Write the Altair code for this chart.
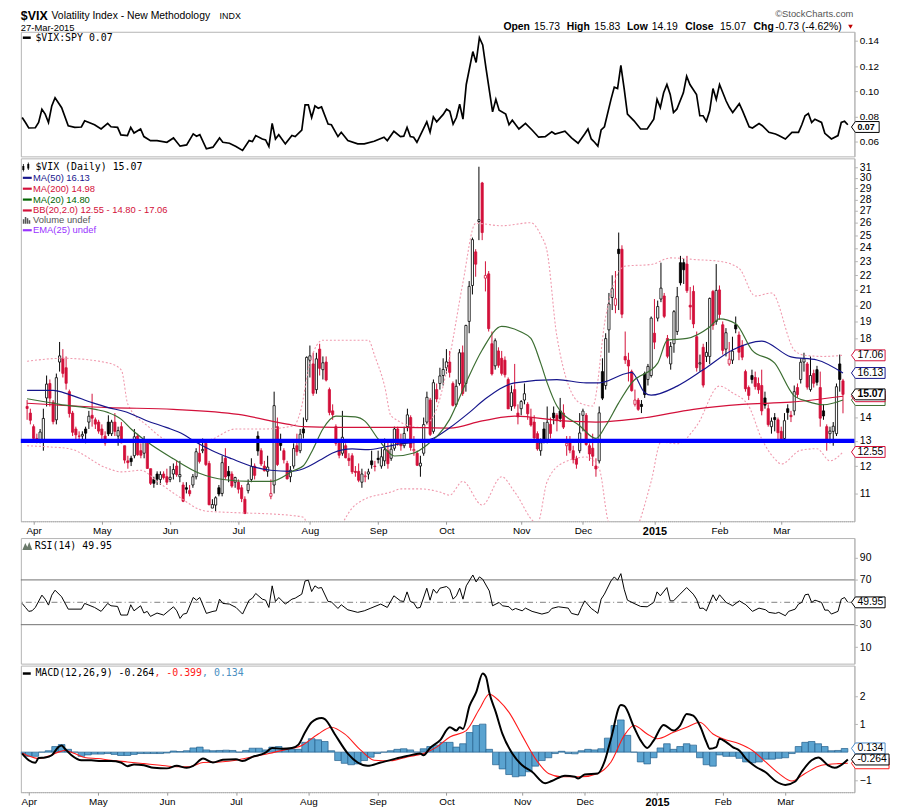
import altair as alt
import numpy as np
import pandas as pd

# ---------------- data (trading-day index j: 0 = 28-Mar-2014 ... 251 = 27-Mar-2015) ----------------
TICK_J = [2, 23, 44, 65, 87, 108, 129, 152, 171, 193, 213, 232]
TICK_LBL = ["Apr", "May", "Jun", "Jul", "Aug", "Sep", "Oct", "Nov", "Dec", "2015", "Feb", "Mar"]
PRIOR_CLOSE = 14.62

OPEN = [14.5, 14.2,
        13.6, 13.1, 13.0, 13.0, 14.9, 15.6, 14.7, 13.9, 16.7, 16.9, 16.4, 15.2, 14.2, 13.5, 13.2, 13.2, 13.5, 13.8, 14.1, 13.9, 13.8,
        13.5, 13.2, 13.8, 13.3, 13.8, 13.2, 13.6, 12.8, 12.2, 12.3, 12.4, 13.2, 12.6, 12.5, 12.9, 11.9, 11.5, 11.7, 11.5, 11.7, 11.6,
        11.5, 11.7, 12.0, 11.6, 11.3, 11.2, 11.1, 11.3, 11.6, 12.5, 12.6, 12.9, 12.1, 10.5, 10.6, 11.2, 11.0, 12.3, 11.8, 11.7, 11.4,
        11.4, 11.2, 10.8, 11.1, 11.5, 12.0, 13.2, 12.6, 12.0, 11.8, 10.9, 11.3, 13.6, 13.0, 12.6, 12.1, 11.6, 12.0, 12.8, 12.6, 13.5, 13.9,
        16.8, 16.6, 15.3, 17.4, 16.3, 16.7, 15.3, 14.3, 13.6, 12.9, 12.5, 12.8, 12.3, 12.4, 11.8, 11.8, 11.4, 11.6, 11.7, 12.2, 12.0,
        12.3, 12.0, 12.2, 12.6, 12.3, 12.7, 13.5, 13.0, 12.8, 13.6, 14.0, 12.6, 12.5, 12.0, 12.5, 13.8, 14.8, 13.4, 15.3, 15.6, 16.0,
        16.4, 16.7, 15.6, 14.6, 15.6, 17.2, 15.6, 19.0, 21.3, 23.7, 26.1, 29.5, 21.8, 22.1, 17.7, 16.5, 17.3, 16.9, 16.8, 15.8, 14.5, 15.3, 14.2,
        14.4, 14.8, 14.6, 14.0, 13.8, 13.3, 12.6, 13.5, 13.0, 13.7, 14.2, 14.1, 14.3, 14.2, 12.8, 13.0, 12.6, 12.3, 12.6,
        14.1, 14.1, 12.8, 12.7, 12.0, 12.2, 16.2, 15.5, 18.5, 20.5, 20.0, 23.9, 23.9, 17.0, 16.8, 16.2, 14.6, 14.8, 14.6, 16.1, 15.8, 16.0,
        18.3, 19.2, 20.4, 20.6, 18.0, 16.6, 17.7, 18.4, 22.9, 22.9, 22.8, 20.0, 20.9, 18.1, 16.6, 17.5, 17.0, 17.0, 20.9, 19.0,
        21.0, 18.8, 17.4, 16.6, 16.8, 18.8, 18.2, 17.6, 16.2, 15.4, 16.0, 15.9, 15.6, 15.5, 14.9, 14.4, 13.6, 14.0, 13.9,
        13.4, 13.1, 14.4, 14.1, 14.3, 15.4, 15.8, 16.7, 16.6, 15.3, 16.1, 16.3, 15.4, 14.3, 13.6, 13.3, 13.4, 13.3, 16.6, 15.73]
HIGH = [14.8, 14.4,
        13.7, 13.3, 13.5, 14.4, 16.0, 15.8, 14.8, 16.1, 17.8, 17.4, 17.0, 15.3, 14.3, 13.6, 13.4, 13.4, 13.6, 14.3, 15.1, 14.0, 13.9,
        13.7, 13.4, 14.1, 13.9, 14.2, 13.6, 13.8, 12.8, 12.4, 12.4, 13.5, 13.3, 12.9, 13.2, 13.0, 11.9, 11.6, 11.8, 11.8, 11.8, 11.9,
        12.0, 12.1, 12.2, 12.2, 11.4, 11.4, 11.3, 11.7, 12.7, 12.9, 13.1, 12.9, 12.2, 10.8, 10.9, 11.3, 12.4, 12.7, 12.0, 11.8, 11.6,
        11.5, 11.3, 10.9, 11.5, 12.3, 12.1, 13.4, 12.7, 12.2, 12.4, 11.5, 15.2, 14.0, 13.3, 12.7, 12.2, 12.0, 12.9, 13.3, 13.5, 14.0, 17.0,
        17.6, 17.2, 17.2, 17.7, 17.0, 17.0, 15.4, 14.6, 13.7, 13.0, 14.3, 12.9, 12.5, 12.5, 12.0, 12.1, 11.9, 11.8, 11.9, 12.6, 12.2,
        12.6, 12.7, 13.1, 13.0, 12.9, 13.6, 13.6, 13.3, 13.6, 14.4, 14.1, 13.2, 12.6, 12.4, 14.0, 15.2, 14.9, 15.8, 15.6, 16.4, 16.9,
        17.4, 17.3, 15.7, 15.8, 17.4, 17.6, 18.8, 21.6, 24.8, 23.9, 31.06, 29.6, 23.0, 22.3, 18.4, 18.0, 17.5, 17.3, 17.0, 15.9, 15.5, 16.6, 14.6,
        14.8, 15.6, 14.7, 14.4, 14.1, 13.4, 13.1, 13.8, 14.5, 14.0, 14.5, 14.2, 14.9, 14.6, 13.2, 13.2, 12.8, 12.4, 14.2,
        14.4, 14.2, 12.9, 13.3, 12.3, 14.5, 16.9, 18.3, 20.8, 22.0, 22.3, 25.2, 24.2, 18.4, 17.2, 16.3, 15.3, 14.9, 14.8, 16.2, 16.6, 19.3,
        20.4, 20.3, 22.9, 20.8, 18.2, 17.8, 19.7, 21.2, 23.4, 23.2, 23.4, 21.2, 21.3, 18.4, 17.1, 17.7, 17.8, 20.5, 21.0, 22.8,
        21.3, 19.0, 18.6, 17.8, 18.1, 19.3, 18.4, 17.9, 16.3, 15.5, 16.3, 16.2, 15.9, 16.3, 15.2, 14.6, 14.0, 14.2, 14.0,
        13.6, 14.2, 14.6, 14.3, 15.5, 15.6, 16.9, 17.2, 16.7, 17.0, 16.3, 16.5, 16.2, 14.6, 13.7, 13.6, 13.8, 15.6, 17.1, 15.83]
LOW = [13.9, 13.7,
       13.0, 12.9, 12.9, 12.6, 14.5, 14.5, 13.7, 13.7, 16.2, 15.9, 15.3, 14.0, 13.2, 13.0, 13.0, 13.0, 12.9, 13.5, 13.6, 13.5, 13.3,
       13.0, 12.8, 13.2, 13.2, 13.2, 12.8, 12.9, 12.1, 11.9, 12.0, 12.3, 12.4, 12.3, 12.3, 11.9, 11.3, 11.2, 11.3, 11.3, 11.5, 11.3,
       11.4, 11.5, 11.6, 11.4, 10.7, 11.0, 10.9, 11.2, 11.5, 12.1, 12.5, 12.0, 10.6, 10.5, 10.4, 10.9, 10.9, 11.5, 11.4, 11.2, 11.2,
       11.0, 10.7, 10.3, 11.0, 11.4, 11.5, 12.4, 12.0, 11.8, 11.6, 10.8, 11.0, 12.0, 12.6, 12.1, 11.5, 11.4, 11.9, 12.4, 12.5, 13.1, 13.8,
       15.9, 15.0, 15.1, 16.0, 15.8, 15.7, 14.1, 13.9, 12.8, 12.3, 12.4, 12.3, 12.0, 11.7, 11.6, 11.4, 11.2, 11.4, 11.5, 11.9, 11.8,
       12.1, 11.9, 12.0, 11.9, 12.2, 12.6, 12.8, 12.6, 12.7, 13.4, 12.6, 12.4, 12.0, 11.6, 12.4, 13.7, 13.2, 13.3, 14.7, 15.3, 15.5,
       16.1, 15.9, 14.5, 14.5, 15.5, 15.0, 15.2, 18.3, 20.7, 21.9, 24.6, 24.6, 20.9, 18.4, 16.0, 16.3, 16.4, 16.0, 15.9, 14.4, 14.3, 14.4, 13.7,
       14.1, 14.6, 13.9, 13.6, 13.0, 12.6, 12.4, 12.9, 12.9, 13.1, 13.7, 13.4, 13.8, 13.5, 12.4, 12.5, 12.1, 11.9, 12.5,
       13.4, 12.8, 12.2, 12.0, 11.6, 12.1, 14.8, 15.3, 17.2, 19.7, 19.5, 19.7, 19.2, 16.6, 15.7, 15.2, 14.5, 14.3, 14.2, 14.9, 15.5, 15.9,
       17.4, 19.0, 20.2, 19.2, 16.9, 16.3, 17.2, 18.2, 21.3, 21.4, 20.8, 19.1, 18.6, 16.2, 16.2, 15.4, 16.7, 16.6, 18.5, 18.8,
       19.1, 17.1, 17.0, 16.5, 16.6, 18.3, 16.8, 16.8, 15.2, 14.8, 15.6, 15.3, 15.1, 14.1, 14.4, 13.6, 13.3, 13.4, 13.0,
       13.0, 13.0, 13.9, 13.8, 14.1, 14.9, 15.6, 16.2, 15.3, 15.2, 15.4, 15.5, 13.6, 13.9, 12.6, 12.9, 12.8, 13.2, 15.2, 14.19]
CLOSE = [14.41, 13.88,
         13.10, 13.09, 13.37, 13.96, 15.57, 14.89, 13.82, 15.89, 17.03, 16.11, 15.61, 14.18, 13.36, 13.25, 13.19, 13.27, 13.32, 14.06, 13.97, 13.71, 13.41,
         13.25, 12.91, 13.29, 13.80, 13.40, 13.43, 12.92, 12.23, 12.13, 12.17, 13.17, 12.44, 12.42, 12.96, 11.91, 11.36, 11.36, 11.51, 11.68, 11.57, 11.40,
         11.58, 11.87, 11.68, 11.68, 10.73, 11.15, 10.99, 11.60, 12.56, 12.18, 12.65, 12.06, 10.61, 10.62, 10.85, 10.98, 12.13, 11.59, 11.63, 11.26, 11.57,
         11.15, 10.82, 10.32, 11.33, 11.98, 11.65, 12.59, 12.08, 11.82, 11.96, 11.00, 14.54, 12.06, 12.81, 12.24, 11.52, 11.84, 12.69, 12.56, 13.28, 13.33, 16.95,
         17.03, 15.12, 16.87, 16.37, 16.66, 15.77, 14.23, 14.13, 12.90, 12.42, 13.15, 12.32, 12.21, 11.78, 11.76, 11.47, 11.70, 11.63, 11.78, 12.05, 11.98,
         12.25, 12.36, 12.64, 12.09, 12.66, 13.50, 12.88, 12.80, 13.31, 14.12, 12.73, 12.65, 12.03, 12.11, 13.69, 14.93, 13.27, 15.64, 14.85, 15.98, 16.31,
         16.71, 16.16, 14.55, 15.46, 17.20, 15.11, 18.76, 21.24, 24.64, 22.79, 26.25, 25.20, 21.99, 18.57, 16.08, 17.87, 16.53, 16.11, 16.04, 14.39, 15.15, 14.52, 14.03,
         14.73, 15.10, 14.17, 13.67, 13.12, 12.67, 12.92, 13.02, 13.79, 13.31, 13.99, 13.86, 13.96, 13.58, 12.90, 12.62, 12.25, 12.07, 13.33,
         14.29, 12.85, 12.47, 12.38, 11.89, 14.21, 14.89, 17.99, 20.08, 21.08, 20.42, 23.57, 19.44, 16.81, 16.49, 15.25, 14.80, 14.37, 14.50, 15.06, 16.47, 19.20,
         17.79, 19.92, 21.12, 19.31, 17.01, 17.55, 19.60, 20.56, 21.48, 22.39, 20.95, 19.89, 18.85, 16.40, 16.66, 15.52, 17.22, 20.44, 18.76, 20.97,
         19.43, 17.33, 18.33, 16.85, 17.29, 18.55, 17.23, 16.96, 15.34, 15.02, 15.80, 15.45, 15.29, 14.30, 14.56, 13.69, 13.84, 13.91, 13.34,
         13.04, 13.86, 14.23, 14.04, 15.20, 15.06, 16.69, 16.87, 15.42, 16.00, 15.61, 15.66, 13.97, 14.07, 13.02, 13.41, 13.62, 15.44, 15.80, 15.07]

RATIO_DAY = [0, 1, 2, 4, 5, 6, 7, 8, 9, 10, 12, 14, 16, 18, 19, 22, 24, 26, 27, 29, 30, 32, 33, 34, 36, 37, 39, 41, 44, 46,
             48, 50, 52, 53, 54, 56, 58, 60, 61, 63, 65, 67, 69, 70, 71, 73, 74, 75, 76, 77, 78, 80, 82, 83, 85, 86, 87, 88, 89, 90,
             91, 93, 94, 96, 97, 99, 102, 104, 107, 110, 111, 113, 115, 116, 117, 118, 119, 120, 123, 124, 125, 126, 128, 129, 130,
             131, 132, 133, 134, 135, 137, 138, 139, 140, 141, 143, 144, 145, 147, 148, 149, 151, 153, 155, 157, 159, 161, 162, 165,
             167, 169, 171, 172, 173, 174, 175, 176, 177, 179, 180, 181, 182, 183, 184, 186, 188, 190, 192, 193, 194, 195, 196, 197,
             198, 199, 201, 202, 203, 205, 206, 207, 208, 209, 210, 211, 212, 214, 215, 216, 218, 219, 221, 222, 224, 225, 227, 229,
             230, 232, 234, 236, 237, 238, 239, 240, 241, 243, 244, 246, 248, 249, 250, 251]
RATIO = [0.0793, 0.0754, 0.0710, 0.0712, 0.0754, 0.0859, 0.0820, 0.0754, 0.0885, 0.0950, 0.0871, 0.0728, 0.0715, 0.0718, 0.0767,
         0.0736, 0.0702, 0.0746, 0.0720, 0.0715, 0.0655, 0.0650, 0.0715, 0.0670, 0.0702, 0.0642, 0.0610, 0.0610, 0.0597, 0.0631,
         0.0566, 0.0576, 0.0663, 0.0645, 0.0657, 0.0545, 0.0558, 0.0631, 0.0597, 0.0589, 0.0563, 0.0532, 0.0610, 0.0602, 0.0650,
         0.0623, 0.0615, 0.0563, 0.0746, 0.0623, 0.0657, 0.0584, 0.0650, 0.0642, 0.0694, 0.0893, 0.0893, 0.0793, 0.0885, 0.0867,
         0.0877, 0.0741, 0.0736, 0.0642, 0.0676, 0.0610, 0.0584, 0.0584, 0.0605, 0.0637, 0.0610, 0.0684, 0.0642, 0.0645, 0.0715,
         0.0642, 0.0637, 0.0597, 0.0759, 0.0676, 0.0798, 0.0759, 0.0818, 0.0859, 0.0843,
         0.0741, 0.0793, 0.0898, 0.0780, 0.1055, 0.1316, 0.1230, 0.1426, 0.1369, 0.1185, 0.0838, 0.0937, 0.0851, 0.0820, 0.0736,
         0.0772, 0.0702, 0.0746, 0.0694, 0.0637, 0.0642, 0.0680, 0.0662, 0.0684, 0.0631, 0.0589, 0.0662, 0.0702, 0.0623, 0.0597,
         0.0566, 0.0694, 0.0720, 0.0937, 0.1034, 0.1023, 0.1206, 0.1023, 0.0820, 0.0767, 0.0702, 0.0702, 0.0780, 0.0937, 0.0872,
         0.0989, 0.1055, 0.0976, 0.0833, 0.0859, 0.0989, 0.1120, 0.1055, 0.0976, 0.0807, 0.0807, 0.0763, 0.0846, 0.1023, 0.0937,
         0.1055, 0.0924, 0.0872, 0.0833, 0.0903, 0.0846, 0.0720, 0.0710, 0.0746, 0.0728, 0.0676, 0.0662, 0.0650, 0.0623, 0.0676,
         0.0676, 0.0736, 0.0807, 0.0825, 0.0754, 0.0780, 0.0754, 0.0668, 0.0623, 0.0650, 0.0754, 0.0763, 0.0736]

MA50_DAY = [0, 8, 13, 20, 25, 30, 37, 43, 48, 52, 57, 63, 70, 75, 81, 85, 90, 94, 100, 105, 110, 115, 121, 125, 130, 136,
            141, 150, 163, 172, 176, 184, 186, 190, 192, 200, 208, 217, 226, 235, 243, 251]
MA50 = [15.26, 15.26, 15.06, 14.68, 14.45, 14.27, 13.85, 13.56, 13.28, 12.94, 12.60, 12.28, 11.96, 11.84, 11.80, 11.90, 12.22,
        12.51, 12.67, 12.64, 12.75, 12.88, 12.97, 13.11, 13.55, 14.22, 14.86, 15.63, 15.79, 15.63, 15.63, 16.09, 16.16, 15.15,
        15.03, 15.47, 16.29, 17.35, 17.85, 16.98, 16.81, 16.13]
MA200_DAY = [0, 25, 45, 65, 80, 85, 95, 115, 130, 140, 150, 165, 175, 190, 205, 220, 235, 251]
MA200 = [14.65, 14.45, 14.37, 14.14, 13.71, 13.60, 13.57, 13.57, 13.54, 13.85, 14.06, 13.85, 13.80, 13.99, 14.37, 14.60, 14.70, 14.98]
MA20_DAY = [0, 10, 21, 25, 29, 32, 37, 45, 53, 61, 69, 75, 82, 85, 88, 91, 95, 101, 104, 108, 113, 119, 123, 130, 135, 140,
            146, 152, 155, 158, 160, 163, 170, 175, 178, 182, 186, 194, 197, 203, 210, 213, 218, 223, 230, 236, 240, 245, 251]
MA20 = [14.86, 14.60, 14.37, 14.22, 13.92, 13.50, 12.95, 12.28, 11.73, 11.49, 11.43, 11.43, 11.83, 12.01, 12.67, 13.50, 14.06,
        14.03, 13.83, 13.08, 12.39, 12.51, 12.83, 13.92, 15.63, 17.35, 18.70, 18.37, 18.00, 16.64, 15.63, 14.52, 13.64, 13.10,
        13.64, 14.67, 15.63, 16.64, 17.90, 18.00, 18.67, 19.16, 18.86, 17.35, 16.64, 15.00, 14.74, 14.58, 14.80]
BBU_DAY = [0, 11, 25, 29, 31, 37, 45, 53, 57, 64, 73, 82, 84, 87, 91, 105, 107, 110, 112, 121, 125, 130, 134, 138, 146, 155,
           158, 160, 163, 170, 174, 178, 184, 192, 198, 206, 213, 219, 224, 229, 236, 239, 245, 251]
BBU = [16.74, 16.90, 16.65, 16.28, 14.60, 13.64, 12.95, 12.95, 13.08, 13.50, 13.50, 13.64, 14.22, 16.65, 17.90, 17.90, 17.00,
       15.47, 14.06, 13.57, 14.06, 17.00, 21.40, 25.95, 25.75, 26.00, 25.00, 23.70, 18.10, 14.67, 14.52, 19.30, 22.65, 22.77,
       23.25, 23.12, 23.00, 22.50, 20.60, 20.80, 17.35, 17.07, 17.00, 17.06]
BBL_DAY = [0, 7, 13, 25, 29, 35, 40, 46, 55, 64, 76, 82, 85, 88, 92, 96, 100, 103, 112, 115, 121, 127, 130, 134, 140, 146,
           150, 157, 160, 165, 172, 176, 179, 185, 192, 195, 200, 206, 213, 217, 222, 226, 230, 232, 238, 243, 247, 251]
BBL = [12.80, 12.75, 12.68, 11.90, 11.78, 11.84, 11.43, 10.94, 10.40, 10.35, 10.30, 10.25, 10.20, 9.30, 9.00, 9.80, 10.50,
       10.75, 11.05, 11.16, 11.16, 11.05, 10.94, 11.43, 10.60, 11.60, 11.05, 10.00, 11.43, 12.13, 12.35, 11.90, 10.00, 9.50,
       11.43, 12.95, 12.88, 13.64, 15.47, 15.15, 14.52, 13.08, 12.28, 12.08, 12.62, 12.68, 12.20, 12.55]

RSI_DAY = [0, 1, 2, 3, 4, 6, 7, 8, 9, 10, 12, 14, 18, 19, 22, 24, 26, 27, 29, 30, 32, 33, 34, 36, 37, 38, 39, 41, 43, 46,
           47, 48, 49, 50, 52, 53, 54, 56, 58, 59, 60, 61, 63, 65, 67, 69, 70, 71, 73, 74, 75, 76, 77, 78, 80, 82, 83, 85, 86,
           87, 88, 89, 90, 91, 93, 94, 96, 97, 99, 102, 104, 106, 109, 111, 113, 115, 116, 117, 118, 119, 120, 121, 123, 124,
           125, 126, 127, 129, 130, 131, 132, 133, 134, 135, 137, 138, 139, 140, 142, 143, 145, 146, 148, 149, 150, 152, 153,
           155, 158, 160, 161, 163, 166, 167, 169, 170, 171, 173, 174, 175, 176, 177, 179, 180, 181, 182, 183, 184, 186, 188,
           190, 192, 193, 194, 196, 197, 198, 200, 202, 204, 205, 206, 207, 208, 210, 211, 212, 214, 215, 216, 218, 220, 222,
           224, 226, 227, 229, 230, 232, 233, 235, 236, 237, 238, 239, 240, 241, 243, 244, 245, 246, 248, 249, 250, 251]
RSI = [49.0, 45.4, 41.9, 42.4, 45.4, 56.4, 52.8, 47.5, 56.4, 60.8, 54.9, 43.9, 43.9, 49.0, 45.4, 41.9, 49.0, 46.9, 46.3, 38.6,
       38.6, 47.8, 42.4, 46.9, 40.4, 41.9, 37.4, 40.4, 38.6, 46.0, 42.4, 35.6, 39.5, 40.1, 54.3, 51.9, 54.3, 40.1, 41.9, 42.4,
       52.8, 49.0, 48.4, 45.4, 39.5, 51.9, 53.7, 57.9, 52.8, 51.9, 45.4, 64.7, 50.7, 54.3, 48.4, 52.8, 53.7, 57.3, 69.1, 69.7,
       59.6, 64.7, 62.6, 63.2, 50.7, 50.4, 44.5, 47.8, 43.3, 41.0, 42.4, 44.8, 48.4, 45.4, 55.8, 51.3, 50.7, 59.3, 50.7, 49.6,
       44.8, 45.4, 62.6, 51.9, 61.7, 58.1, 62.6, 64.1, 61.7, 52.8, 55.8, 62.6, 52.8, 64.7, 74.4, 68.2, 72.7, 70.6, 60.2, 46.9,
       49.9, 46.9, 46.0, 43.0, 44.5, 42.4, 44.8, 41.9, 39.5, 41.0, 44.5, 46.0, 44.8, 40.1, 38.6, 45.4, 51.3, 44.5, 42.4, 40.1,
       52.8, 57.3, 69.1, 72.7, 69.7, 75.6, 61.7, 51.9, 49.0, 46.3, 46.0, 49.9, 59.3, 55.8, 63.2, 51.3, 51.3, 57.3, 63.2, 57.3,
       52.8, 44.5, 44.8, 42.4, 56.7, 51.3, 56.7, 49.9, 48.4, 46.9, 51.3, 47.8, 41.9, 44.8, 43.3, 41.0, 40.1, 41.0, 38.0, 41.9,
       43.9, 48.4, 49.9, 56.7, 57.3, 49.9, 51.9, 49.9, 43.0, 43.0, 39.5, 41.9, 52.8, 54.3, 49.95]

MACD_DAY = [0, 2, 4, 5, 7, 9, 11, 12, 13, 15, 18, 21, 24, 27, 30, 32, 34, 37, 40, 44, 47, 50, 52, 55, 58, 61, 65, 67, 70,
            74, 76, 79, 82, 84, 86, 88, 91, 92, 95, 99, 102, 105, 109, 113, 117, 121, 122, 124, 127, 130, 132, 133, 134, 136,
            138, 140, 141, 142, 144, 146, 149, 152, 155, 159, 161, 165, 168, 169, 171, 175, 177, 179, 182, 183, 186, 188, 190,
            192, 195, 198, 200, 202, 204, 206, 208, 209, 211, 212, 214, 216, 218, 220, 223, 226, 229, 232, 235, 237, 240, 242,
            245, 247, 251]
MACD = [-0.05, -0.29, -0.38, -0.21, -0.19, -0.11, 0.18, 0.24, 0.12, -0.11, -0.29, -0.29, -0.32, -0.32, -0.37, -0.50, -0.44,
        -0.47, -0.56, -0.58, -0.49, -0.56, -0.49, -0.23, -0.37, -0.27, -0.25, -0.32, -0.17, -0.02, 0.15, 0.12, 0.15, 0.27,
        0.71, 1.07, 1.22, 1.18, 0.65, -0.05, -0.37, -0.49, -0.37, -0.25, -0.14, -0.05, -0.11, 0.15, 0.42, 0.89, 0.77, 0.89,
        0.83, 1.65, 2.13, 2.81, 2.69, 2.13, 1.42, 0.65, -0.05, -0.47, -0.70, -1.11, -1.03, -0.84, -0.88, -0.94, -0.80, -0.76,
        -0.35, 0.48, 1.68, 1.65, 0.89, 0.42, 0.15, 0.42, 0.97, 0.77, 0.95, 1.36, 1.30, 0.95, 0.36, 0.12, 0.18, 0.48, 0.36,
        0.18, 0.06, -0.23, -0.52, -0.72, -1.03, -1.17, -1.05, -0.70, -0.29, -0.19, -0.47, -0.56, -0.264]
SIG_DAY = [0, 2, 5, 8, 11, 13, 16, 19, 23, 27, 32, 37, 42, 47, 51, 55, 60, 65, 70, 75, 80, 85, 90, 94, 98, 103, 107, 112,
           117, 122, 126, 130, 135, 139, 142, 145, 148, 152, 156, 160, 164, 170, 175, 179, 183, 186, 190, 193, 198, 202, 206,
           210, 213, 218, 222, 226, 230, 234, 238, 243, 248, 251]
SIG = [-0.03, -0.14, -0.23, -0.14, 0.00, 0.06, -0.05, -0.19, -0.23, -0.29, -0.35, -0.41, -0.47, -0.52, -0.52, -0.37, -0.35,
       -0.29, -0.17, -0.05, 0.09, 0.24, 0.65, 0.89, 0.65, 0.06, -0.29, -0.31, -0.17, -0.05, 0.18, 0.54, 0.77, 1.54, 2.07, 1.83,
       1.42, 0.59, -0.23, -0.76, -0.88, -0.88, -0.76, -0.35, 0.59, 0.95, 0.65, 0.48, 0.71, 0.89, 1.07, 0.65, 0.48, 0.30, 0.06,
       -0.35, -0.76, -1.03, -0.76, -0.47, -0.41, -0.399]
HIST_DAY = list(range(0, 251, 2))
HIST = [-0.05, -0.15, -0.15, 0.00, 0.05, 0.20, 0.27, 0.10, 0.00, -0.15, -0.10, -0.07, -0.07, -0.05, -0.08, -0.12, -0.12,
        -0.08, -0.05, -0.05, -0.05, -0.05, -0.03, 0.04, 0.02, 0.05, 0.15, 0.18, 0.08, 0.05, 0.06, 0.07, 0.06, 0.00, 0.06,
        0.14, 0.14, 0.08, 0.18, 0.20, 0.10, 0.10, 0.10, 0.35, 0.48, 0.44, 0.38, 0.05, -0.30, -0.40, -0.45, -0.42, -0.30,
        -0.18, -0.05, 0.00, 0.05, 0.10, 0.12, 0.08, 0.00, 0.12, 0.20, 0.25, 0.35, 0.35, 0.18, 0.30, 0.70, 0.95, 1.00, 0.10,
        -0.45, -0.60, -0.80, -0.88, -0.85, -0.70, -0.50, -0.30, -0.20, -0.05, 0.03, -0.05, -0.06, 0.05, 0.10, 0.08, 0.12,
        0.50, 0.95, 1.15, 0.60, 0.00, -0.35, -0.42, -0.20, 0.15, 0.30, 0.10, 0.20, 0.30, 0.25, -0.20, -0.45, -0.50, -0.10,
        -0.15, -0.15, -0.22, -0.35, -0.38, -0.35, -0.25, -0.25, -0.22, -0.20, -0.05, 0.20, 0.35, 0.38, 0.30, 0.20, 0.05,
        0.06, 0.13]

# ---------------- layout / style ----------------
W = 843
H1, H2, H3, H4 = 126, 367, 127, 128
XS = alt.Scale(domain=[-0.4, 253.0], nice=False, zero=False)
RED = "#d3103a"
NAVY = "#16168c"
GREEN = "#3c6e32"
PINK = "#f09aae"
SANS = "Liberation Sans"
MONO = "DejaVu Sans Mono"
GRAY = "#b4b4b4"

LABEL_EXPR = "[" + ",".join("'%s'" % s for s in TICK_LBL) + "][indexof([" + ",".join(str(v) for v in TICK_J) + "], datum.value)]"
XAX = alt.Axis(values=TICK_J, labelExpr=LABEL_EXPR, title=None, grid=False, tickSize=3, tickColor="#999999",
               domainColor="#aaaaaa", domainDash=[1, 1], labelFont=SANS, labelColor="#000000", labelPadding=1,
               labelFlush=False, labelOverlap=False,
               labelFontSize={"condition": {"test": "datum.value == 193", "value": 11}, "value": 10},
               labelFontWeight={"condition": {"test": "datum.value == 193", "value": "bold"}, "value": "normal"})
X_AX = alt.X("j:Q", scale=XS, axis=XAX)
X_NO = alt.X("j:Q", scale=XS, axis=None)


def yax(values, fmt, size=10.5):
    return alt.Axis(orient="right", values=values, format=fmt, title=None, grid=False, labelOverlap=False,
                    tickSize=3, tickColor=GRAY, domainColor=GRAY, labelFont=SANS, labelFontSize=size,
                    labelColor="#000000", labelPadding=2, labelFlush=False)


def y1(f):
    return alt.Y(f + ":Q", scale=alt.Scale(domain=[0.0485, 0.1473], nice=False, zero=False),
                 axis=yax([0.06, 0.08, 0.10, 0.12, 0.14], ".2f", 10))


# 15, 16 and 17 sit under the value tags on the reference, so they are not labelled
Y2_TICKS = [v for v in range(11, 32) if v not in (15, 16, 17)]


def y2(f):
    return alt.Y(f + ":Q", scale=alt.Scale(type="log", domain=[10.07, 31.9], nice=False, zero=False),
                 axis=yax(Y2_TICKS, "d"))


def y3(f):
    return alt.Y(f + ":Q", scale=alt.Scale(domain=[-4.8, 107.4], nice=False, zero=False),
                 axis=yax([10, 30, 70, 90], "d"))


def y4(f):
    return alt.Y(f + ":Q", scale=alt.Scale(domain=[-1.43, 3.09], nice=False, zero=False),
                 axis=yax([-1, 1, 2], "d"))


def one():
    return pd.DataFrame({"k": [0]})


def txt(t, x, y, size=10, font=SANS, color="#000000", weight="normal", align="left", baseline="middle"):
    return alt.Chart(one()).mark_text(text=t, font=font, fontSize=size, color=color, fontWeight=weight,
                                      align=align, baseline=baseline).encode(x=alt.value(x), y=alt.value(y))


def dash(x1, x2, y, color, w=2.0):
    return alt.Chart(one()).mark_rule(color=color, strokeWidth=w).encode(
        x=alt.value(x1), x2=alt.value(x2), y=alt.value(y))


def icon(path, x, y, color):
    return alt.Chart(one()).mark_point(shape=path, size=4, filled=True, color=color, opacity=1,
                                       strokeWidth=0).encode(x=alt.value(x), y=alt.value(y))


def tag_path(w, hh=5.5):
    return "M-3,0L1,%s L%s,%s L%s,%s L1,%s Z" % (-hh, w, -hh, w, hh, hh)


def tags(rows, yf, size=10.5):
    df = pd.DataFrame(rows, columns=["val", "txt", "col", "w", "bold", "show"])
    df["path"] = [tag_path(w) for w in df["w"]]
    box = alt.Chart(df).mark_point(filled=True, color="white", opacity=1, strokeWidth=1, size=4).encode(
        x=alt.value(W), y=yf("val"), shape=alt.Shape("path:N", scale=None),
        stroke=alt.Stroke("col:N", scale=None))
    layers = [box]
    for b in (False, True):
        sub = df[(df["show"]) & (df["bold"] == b)]
        if len(sub):
            layers.append(alt.Chart(sub).mark_text(align="left", baseline="middle", font=SANS, fontSize=size,
                                                   fontWeight="bold" if b else "normal", color="#000000").encode(
                x=alt.value(W + 3), y=yf("val"), text="txt:N"))
    return layers


# ---------------- panel 1 : $VIX:SPY ----------------
ratio_df = pd.DataFrame({"j": RATIO_DAY, "v": RATIO})
p1_layers = [
    alt.Chart(ratio_df).mark_line(color="#000000", strokeWidth=1.7).encode(x=X_NO, y=y1("v")),
    dash(2, 10, 6, "#000000", 2.5),
    txt("$VIX:SPY 0.07", 14.7, 6.5, size=10, font=MONO),
    # header
    txt("$VIX", 0, -22, size=12.5, weight="bold", baseline="top"),
    txt("Volatility Index - New Methodology", 31, -20.5, size=10.5, baseline="top"),
    txt("INDX", 201, -19.5, size=9, baseline="top"),
    txt("27-Mar-2015", 0, -0.5, size=9.5, baseline="alphabetic"),
    txt("\u00a9StockCharts.com", 842, -22.5, size=9.5, color="#555555", align="right", baseline="top"),
    txt("Open", 488, -1.5, size=10.5, weight="bold", baseline="alphabetic"),
    txt("15.73", 519, -1.5, size=10.5, baseline="alphabetic"),
    txt("High", 552, -1.5, size=10.5, weight="bold", baseline="alphabetic"),
    txt("15.83", 580, -1.5, size=10.5, baseline="alphabetic"),
    txt("Low", 613, -1.5, size=10.5, weight="bold", baseline="alphabetic"),
    txt("14.19", 638, -1.5, size=10.5, baseline="alphabetic"),
    txt("Close", 672, -1.5, size=10.5, weight="bold", baseline="alphabetic"),
    txt("15.07", 707, -1.5, size=10.5, baseline="alphabetic"),
    txt("Chg", 741, -1.5, size=10.5, weight="bold", baseline="alphabetic"),
    txt("-0.73 (-4.62%)", 763, -1.5, size=10.5, baseline="alphabetic"),
    alt.Chart(one()).mark_point(shape="triangle-down", size=22, filled=True, color="#c00000", opacity=1).encode(
        x=alt.value(839), y=alt.value(-5)),
]
p1_layers += tags([(0.0718, "0.07", "#000000", 25, True, True)], y1, size=9)
p1 = alt.layer(*p1_layers).properties(width=W, height=H1)

# ---------------- panel 2 : candles + overlays ----------------
n = min(len(OPEN), len(HIGH), len(LOW), len(CLOSE))
cd = pd.DataFrame({"j": list(range(n)), "o": OPEN[:n], "h": HIGH[:n], "l": LOW[:n], "c": CLOSE[:n]})
prev = cd["c"].shift(1).fillna(PRIOR_CLOSE)
cd["col"] = np.where(cd["c"] < prev, RED, "#000000")
cd["fill"] = np.where(cd["c"] >= cd["o"], "#ffffff", cd["col"])

wicks = alt.Chart(cd).mark_rule(strokeWidth=1).encode(
    x=X_AX, y=y2("l"), y2="h:Q", color=alt.Color("col:N", scale=None))
bodies = alt.Chart(cd).mark_bar(size=2.2, strokeWidth=0.8).encode(
    x=X_AX, y=y2("o"), y2="c:Q", fill=alt.Fill("fill:N", scale=None), stroke=alt.Stroke("col:N", scale=None))


def line2(days, vals, color, width=1.2, dashp=None):
    df = pd.DataFrame({"j": days, "v": vals})
    kw = dict(color=color, strokeWidth=width, interpolate="monotone", clip=True)
    if dashp:
        kw["strokeDash"] = dashp
    return alt.Chart(df).mark_line(**kw).encode(x=X_AX, y=y2("v"))


hline = alt.Chart(pd.DataFrame({"v": [13.0]})).mark_rule(color="#0000ff", strokeWidth=4.3).encode(y=y2("v"))

p2_layers = [
    wicks, bodies,
    line2(BBU_DAY, BBU, PINK, 1.1, [2, 2]),
    line2(BBL_DAY, BBL, PINK, 1.1, [2, 2]),
    line2(MA200_DAY, MA200, RED, 1.2),
    line2(MA50_DAY, MA50, NAVY, 1.2),
    line2(MA20_DAY, MA20, GREEN, 1.2),
    hline,
    icon("M-4.5,-1H-2.5V3H-4.5ZM-3.9,-3H-3.1V4.5H-3.9ZM0.5,-3H2.5V1.5H0.5ZM1.1,-4.5H1.9V3H1.1Z", 6, 8.7, "#000000"),
    txt("$VIX (Daily) 15.07", 14.7, 8.7, size=10, font=MONO),
]
leg = [("MA(50) 16.13", NAVY, 19.7), ("MA(200) 14.98", RED, 30.7), ("MA(20) 14.80", "#006400", 41.7),
       ("BB(20,2.0) 12.55 - 14.80 - 17.06", RED, 52.7)]
for t, c, yy in leg:
    p2_layers.append(dash(2, 11, yy, c, 2.2))
    p2_layers.append(txt(t, 12.3, yy, size=9.5, color=c))
p2_layers.append(icon("M-4.5,3.5V-1H-3V3.5ZM-2.5,3.5V-3.5H-1V3.5ZM-0.5,3.5V-2H1V3.5ZM1.5,3.5V0H3V3.5Z", 6.5, 62.7, "#555555"))
p2_layers.append(txt("Volume undef", 12.3, 62.7, size=9.5, color="#555555"))
p2_layers.append(dash(2, 11, 72.7, "#9933ff", 2.2))
p2_layers.append(txt("EMA(25) undef", 12.3, 72.7, size=9.5, color="#9933ff"))
p2_layers += tags([
    (14.80, "14.80", GREEN, 31, False, False),
    (14.98, "14.98", RED, 31, False, False),
    (15.07, "15.07", "#000000", 31, True, True),
    (17.06, "17.06", RED, 31, False, True),
    (16.13, "16.13", NAVY, 31, False, True),
    (12.55, "12.55", RED, 31, False, True),
], y2)
p2 = alt.layer(*p2_layers).properties(width=W, height=H2)

# ---------------- panel 3 : RSI ----------------
rsi_df = pd.DataFrame({"j": RSI_DAY, "v": RSI})
p3_layers = [
    alt.Chart(pd.DataFrame({"v": [70, 30]})).mark_rule(color="#707070", strokeWidth=1).encode(y=y3("v")),
    alt.Chart(pd.DataFrame({"v": [50]})).mark_rule(color="#808080", strokeWidth=1, strokeDash=[6, 3, 1, 3]).encode(y=y3("v")),
    alt.Chart(rsi_df).mark_line(color="#000000", strokeWidth=1).encode(x=X_NO, y=y3("v")),
    icon("M-5,4L-2,-3L0,1L2,-4L5,4Z", 6.5, 8, "#6b7a6b"),
    txt("RSI(14) 49.95", 14, 7.7, size=10, font=MONO),
]
p3_layers += tags([(49.95, "49.95", "#000000", 31, False, True)], y3)
p3 = alt.layer(*p3_layers).properties(width=W, height=H3)

# ---------------- panel 4 : MACD ----------------
hist_df = pd.DataFrame({"j": HIST_DAY, "v": HIST})
hist_df["x1"] = hist_df["j"] - 1
hist_df["x2"] = hist_df["j"] + 1
hist_df["zero"] = 0.0
macd_df = pd.DataFrame({"j": MACD_DAY, "v": MACD})
sig_df = pd.DataFrame({"j": SIG_DAY, "v": SIG})
p4_layers = [
    alt.Chart(hist_df).mark_bar(color="#5aa3d0", stroke="#245f8c", strokeWidth=0.7, clip=True).encode(
        x=alt.X("x1:Q", scale=XS, axis=XAX), x2="x2:Q", y=y4("v"), y2="zero:Q"),
    alt.Chart(sig_df).mark_line(color="#ff1a1a", strokeWidth=1.1, interpolate="monotone").encode(x=X_AX, y=y4("v")),
    alt.Chart(macd_df).mark_line(color="#000000", strokeWidth=2, interpolate="monotone").encode(x=X_AX, y=y4("v")),
    dash(2, 10, 8, "#000000", 2.5),
    txt("MACD(12,26,9) -0.264", 14.7, 8, size=10, font=MONO),
    txt(", -0.399", 14.7 + 20 * 6.02, 8, size=10, font=MONO, color="#ff1a1a"),
    txt(", 0.134", 14.7 + 28 * 6.02, 8, size=10, font=MONO, color="#4a90c2"),
]
p4_layers += tags([
    (-0.399, "-0.399", "#ff1a1a", 35, False, False),
    (0.134, "0.134", "#4a8ac9", 31, False, True),
    (-0.264, "-0.264", "#000000", 35, False, True),
], y4)
p4 = alt.layer(*p4_layers).properties(width=W, height=H4)

chart = alt.vconcat(p1, p2, p3, p4, spacing=0).properties(
    padding={"left": 9, "top": -3.5, "right": 0, "bottom": 0}, background="white"
).configure_view(stroke=GRAY, strokeWidth=1)

chart.save("out.html", embed_options={"renderer": "svg", "actions": False})
